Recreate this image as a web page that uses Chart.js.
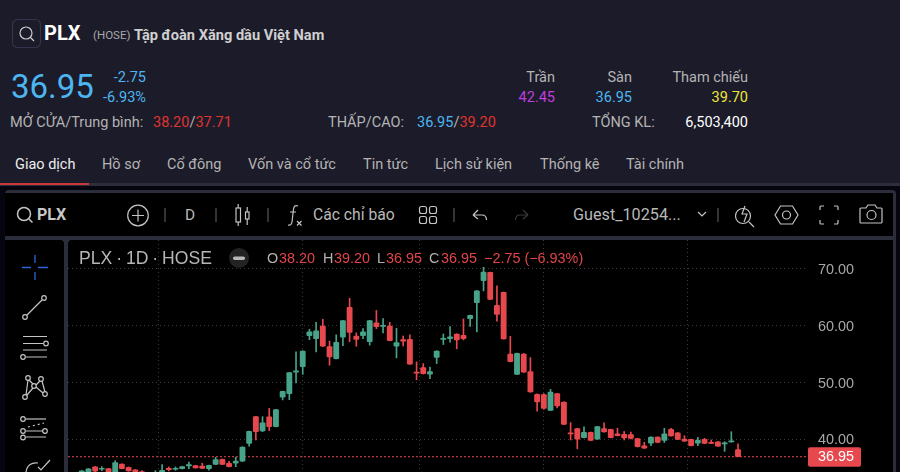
<!DOCTYPE html>
<html lang="vi"><head><meta charset="utf-8">
<script src="https://cdn.jsdelivr.net/npm/chart.js@4"></script>
<style>
html,body{margin:0;padding:0;width:900px;height:472px;overflow:hidden;background:#1c1b29;font-family:Roboto,sans-serif}
.b{position:absolute}
.t{position:absolute;white-space:nowrap;transform:translateY(-50%);font-size:14.5px;line-height:1.2;color:#b4b4b4}
.r{transform:translate(-100%,-50%)}
.c{font-family:"Liberation Sans",sans-serif;font-size:14.4px;color:#b2b2b2}
.red{color:#e0342f}.blue{color:#4db6f2}.cr{color:#e2444a}
svg{position:absolute;left:0;top:0}
canvas{display:block}
</style></head><body>
<div class="b" style="left:0;top:183px;width:900px;height:3px;background:#2d2d3c"></div>
<div class="b" style="left:0;top:183px;width:89px;height:2px;background:#c8383a"></div>
<div class="b" style="left:0;top:186px;width:900px;height:286px;background:#05050f"></div>
<div class="b" style="left:5px;top:190px;width:891px;height:282px;background:#2b2d3b;border-radius:4px 4px 0 0"></div>
<div class="b" style="left:5px;top:193px;width:888px;height:43px;background:#000"></div>
<div class="b" style="left:5px;top:240px;width:59px;height:232px;background:#000;border-radius:0 4px 0 0"></div>
<div class="b" style="left:68px;top:240px;width:825px;height:232px;background:#000;border-radius:4px 0 0 0"></div>
<div class="b" style="left:68px;top:240px;width:832px;height:232px"><canvas id="c" width="832" height="232" style="width:832px;height:232px"></canvas></div>

<div class="t" style="left:44px;top:33px;font-size:20px;font-weight:700;color:#fff">PLX</div>
<div class="t" style="left:93px;top:36px;font-size:11.500px;color:#a8a8a8">(HOSE)</div>
<div class="t" style="left:134px;top:36px;font-size:14.600px;font-weight:700;color:#cfcfcf">Tập đoàn Xăng dầu Việt Nam</div>
<div class="t blue" style="left:11px;top:87px;font-size:33px">36.95</div>
<div class="t r blue" style="left:146px;top:78px">-2.75</div>
<div class="t r blue" style="left:146px;top:98px">-6.93%</div>
<div class="t" style="left:10px;top:123px">MỞ CỬA/Trung bình:</div>
<div class="t" style="left:153px;top:123px"><span class="red">38.20</span>/<span class="red">37.71</span></div>
<div class="t" style="left:328px;top:123px">THẤP/CAO:</div>
<div class="t" style="left:417px;top:123px"><span class="blue">36.95</span>/<span class="red">39.20</span></div>
<div class="t r" style="left:555px;top:78px">Trần</div>
<div class="t r" style="left:632px;top:78px">Sàn</div>
<div class="t r" style="left:748px;top:78px">Tham chiếu</div>
<div class="t r" style="left:555px;top:98px;color:#bd3fdc">42.45</div>
<div class="t r blue" style="left:632px;top:98px">36.95</div>
<div class="t r" style="left:748px;top:98px;color:#eee53a">39.70</div>
<div class="t" style="left:592px;top:123px">TỔNG KL:</div>
<div class="t r" style="left:748px;top:123px;color:#fff">6,503,400</div>

<div class="t" style="left:15px;top:165px;color:#eee">Giao dịch</div>
<div class="t" style="left:102px;top:165px">Hồ sơ</div>
<div class="t" style="left:167px;top:165px">Cổ đông</div>
<div class="t" style="left:248px;top:165px">Vốn và cổ tức</div>
<div class="t" style="left:363px;top:165px">Tin tức</div>
<div class="t" style="left:435px;top:165px">Lịch sử kiện</div>
<div class="t" style="left:540px;top:165px">Thống kê</div>
<div class="t" style="left:626px;top:165px">Tài chính</div>

<div class="t" style="left:37px;top:215px;font-size:16px;font-weight:700;color:#c8c8c8">PLX</div>
<div class="t" style="left:185px;top:215px;font-size:15.400px;color:#b8b8b8">D</div>
<div class="t" style="left:313px;top:215px;font-size:15.700px;color:#b8b8b8">Các chỉ báo</div>
<div class="t" style="left:573px;top:215px;font-size:16.200px;color:#b8b8b8">Guest_10254...</div>

<div class="t c" style="left:79px;top:259px;font-size:17.600px;word-spacing:-1px;color:#b6b6b6">PLX · 1D · HOSE</div>
<div class="t c" style="left:267px;top:259px">O</div><div class="t c cr" style="left:279px;top:259px">38.20</div>
<div class="t c" style="left:323px;top:259px">H</div><div class="t c cr" style="left:334px;top:259px">39.20</div>
<div class="t c" style="left:377px;top:259px">L</div><div class="t c cr" style="left:386px;top:259px">36.95</div>
<div class="t c" style="left:429px;top:259px">C</div><div class="t c cr" style="left:441px;top:259px">36.95</div>
<div class="t c cr" style="left:484px;top:259px">−2.75 (−6.93%)</div>

<svg width="900" height="472" viewBox="0 0 900 472" fill="none" stroke="#c4c4c4" stroke-width="1.2">
<rect x="12.5" y="19.5" width="28" height="28" rx="5" stroke="#34344c"/>
<circle cx="26" cy="33" r="6" stroke="#ccc"/><path d="M30.5 37.5l3.5 3.5" stroke="#ccc"/>
<circle cx="24" cy="214" r="6.5" stroke-width="1.5"/><path d="M29 219l3.5 3.5" stroke-width="1.5"/>
<circle cx="138" cy="215.5" r="10.3"/><path d="M138 209.5v12M132 215.5h12"/>
<path d="M165 203v14M216 203v14M268 203v14M454 203v14M718 203v14" stroke="#555" transform="translate(0,5)"/>
<rect x="236" y="208" width="4.5" height="14"/><path d="M238.2 204v4M238.2 222v4"/><rect x="245.5" y="212" width="3.5" height="7"/><path d="M247.2 207v5M247.2 219v6"/>
<path d="M298 206c-3-1-4 0-4.500 3l-1.500 13c-.5 3-2 3.500-4 3M290 212h6M297 221l4.500 4.500M301.500 221l-4.500 4.500"/>
<rect x="419.500" y="206.500" width="7" height="7" rx="2"/><rect x="429.500" y="206.500" width="7" height="7" rx="2"/><rect x="419.500" y="216.500" width="7" height="7" rx="2"/><rect x="429.500" y="216.500" width="7" height="7" rx="2"/>
<path d="M473 215l5-5M473 215l5 4M473 215h9c3 0 4.500 2 4.500 5"/>
<path d="M528 215l-5-5M528 215l-5 4M528 215h-8c-3 0-4.500 2-4.500 5" stroke="#3a3a3a"/>
<path d="M698 212l4 4 4-4"/>
<circle cx="743" cy="216" r="7.500"/><path d="M749 222l5 5M745 206l-3 8h5l-3 8"/>
<path d="M775 215l5.500-9h12l5.500 9-5.500 9h-12z"/><circle cx="786.500" cy="215" r="4"/>
<path d="M820 210v-3a1 1 0 0 1 1-1h3M834 206h3a1 1 0 0 1 1 1v3M838 220v3a1 1 0 0 1-1 1h-3M824 224h-3a1 1 0 0 1-1-1v-3"/>
<path d="M861 208h5l2-3h7l2 3h4a1 1 0 0 1 1 1v13a1 1 0 0 1-1 1h-20a1 1 0 0 1-1-1v-13a1 1 0 0 1 1-1z"/><circle cx="871.500" cy="215" r="4.500"/>

<path d="M35 255v8M35 272v8M22 267.500h9M38 267.500h10" stroke="#2c66d6" stroke-width="1.300"/>
<path d="M27 315l15-15"/><circle cx="25" cy="317" r="2.300"/><circle cx="44" cy="298" r="2.300"/>
<path d="M23 336.500h24M23 343.500h20M23 350h24M26 357h21"/><circle cx="46" cy="343.500" r="2.300"/><circle cx="23" cy="357" r="2.300"/>
<circle cx="28" cy="378" r="2.300"/><circle cx="41" cy="379" r="2.300"/><circle cx="25" cy="397" r="2.300"/><circle cx="45" cy="394" r="2.300"/><circle cx="34" cy="386" r="2.300"/>
<path d="M26 395l2-15M29 380l4 4M36 385l4-4M42 381l3 11M43 393l-7-6M27 395l6-7"/>
<circle cx="23" cy="419" r="2.300"/><path d="M26 419h20"/><circle cx="23" cy="431" r="2.300"/><circle cx="45" cy="431" r="2.300"/><path d="M26 431h17M26 437h20"/><circle cx="23" cy="437.500" r="2.300"/><path d="M28 427l16-4" stroke-dasharray="2 3"/>
<path d="M26 472c1-7 6-10 12-9M38 467l3 3 9-10"/>
<circle cx="239" cy="258" r="10" fill="#232323" stroke="none"/><rect x="233" y="256.500" width="12" height="3.400" rx="1.700" fill="#b8b8b8" stroke="none"/>
</svg>

<script>
const opens=[33.45,33.45,35.15,34.75,34.85,33.6,35.65,35.1,34.65,34.35,
33.9,33.4,33.9,34.9,34.75,34.85,35.35,35.4,35.3,34.85,
35.6,36.5,35.8,35.8,36.15,39.3,44,41.5,43.95,42.25,
47.45,48.05,51.85,52.8,58.25,57.75,59.95,56.35,54.2,58,
63.25,58.2,58.25,57.2,60.5,59.9,59.95,56.4,57.55,57.6,
51.85,52.65,51.5,54.45,57.6,57.75,58.55,58.3,61.25,64.05,
67.95,69.4,63.6,65.9,55,51.45,55,51.95,47.95,47.9,
45.1,48.05,46.55,41.15,41.9,40.3,41.25,40.05,41.9,41.75,
41,40.9,40.85,40.15,38.85,39.35,40.4,39.8,41.75,41.15,
40.05,40,39.35,40,39.5,39.55,39.2,39.55,38.2];
const highs=[34.5,34.85,35.2,35.2,34.9,36.25,35.7,35.15,34.7,34.5,
34.1,34.5,35.55,35.15,35.15,35.25,36,35.45,35.8,35.5,
36.85,36.55,36.15,36.85,38.7,41.45,44.05,44,45.45,45.3,
48.5,51.8,55.4,55.6,59.4,60.6,61.15,57.3,58.4,60.95,
64.85,58.75,59.5,60.95,62.7,61.25,60.6,59.55,58.2,58.4,
53.65,53.35,52.75,55.6,58.55,59.85,58.6,61.2,61.9,66.2,
70.3,69.45,67.05,65.95,58.15,55.2,55.15,54.4,48,48.05,
48.8,48.1,46.6,42.95,41.95,42.2,41.3,42.3,42.9,41.8,
41.95,41.4,41.3,40.2,39.5,40.45,40.45,41.95,41.95,41.2,
40.65,40.05,40.35,40.2,39.9,39.6,39.6,41.35,39.2];
const lows=[33.4,33.4,34.3,34.5,33.6,33.5,34.8,34.4,33.7,33.4,
33.2,33.2,33.7,34.45,34.55,34.8,34.85,34.95,34.85,34.6,
35.55,35.55,35.15,35.2,36.1,38.8,39.9,41.35,41.55,42.2,
46.95,47,49.95,51.45,57.55,55.4,56.35,53.05,54.15,56.5,
57.2,56.4,57.75,56.6,59.5,58.75,57.35,54.35,56.45,53.2,
50.5,51.5,50.7,53.35,56.7,57.1,55.95,57.5,59.9,58.9,
66.15,64.6,60.8,57.65,53.65,51.4,51.8,48.3,44.95,45.3,
45.05,45.55,42.6,39.9,38.35,40.25,39.75,40,41.25,40.25,
40.6,39.9,40.1,38.65,38.4,38.9,39.4,39.45,40.55,39.95,
39.65,38.85,38.9,39.25,39.25,38.75,37.9,39.5,36.95];
const closes=[34.45,34.8,34.4,34.9,33.7,35.9,34.85,34.45,33.8,33.5,
33.4,34,34.55,34.65,34.9,35.2,35.55,35,34.9,35.45,
36.45,35.6,35.2,36.2,38.65,41.4,41.35,42.9,42.25,45.25,
48.45,51.75,52.05,55.55,58.95,59.1,56.4,54.5,57.1,60.9,
58.85,57.6,58.95,60.9,59.85,60.1,57.4,57.05,57.3,53.25,
51.65,51.55,51.95,55.55,57.75,58.05,57.5,57.75,61.85,66.15,
69.45,64.65,62,57.7,53.7,55.15,51.85,48.35,46.6,45.45,
48.35,45.9,42.65,40.95,40.05,41.25,39.8,42.25,41.3,40.3,
40.65,40.25,40.15,38.7,38.45,40.4,39.45,41,40.6,40,
39.7,38.9,39.85,39.3,39.3,38.8,39.35,39.7,36.95];
const yTicks=[40,50,60,70];
const monthTicks=[0,23,43,58,80,101];
const lastPrice=36.95;

const UP='#47a389',DOWN='#e6484e',GRID='#3b3b3b',AXIS='#a6a6a6';
const xMin=-2.05,xMax=108.3,yMin=34.26,yMax=75.1;
const colors=closes.map((c,i)=>c>=opens[i]?UP:DOWN);

const priceTag={id:'priceTag',afterDraw(ch){
  const s=ch.scales.y,g=ch.ctx,y=s.getPixelForValue(lastPrice),x=ch.chartArea.right+1;
  g.save();g.fillStyle=DOWN;g.beginPath();g.roundRect(x,y-9.500,53,19.500,2);g.fill();
  g.fillStyle='#fff';g.font='14.4px "Liberation Sans"';g.textBaseline='middle';g.textAlign='left';
  g.fillText(lastPrice.toFixed(2),x+10,y+.500);g.restore();
}};

new Chart(document.getElementById('c'),{
  type:'bar',
  plugins:[priceTag],
  data:{datasets:[
    {type:'line',data:[{x:xMin,y:lastPrice},{x:xMax,y:lastPrice}],borderColor:DOWN,borderWidth:1,borderDash:[2,2],pointRadius:0,order:3},
    {label:'Body',data:closes.map((c,i)=>({x:i,y:[opens[i],c]})),backgroundColor:colors,barThickness:5.200,borderRadius:1,borderSkipped:false,grouped:false,minBarLength:1,order:1},
    {label:'Wick',data:closes.map((c,i)=>({x:i,y:[lows[i],highs[i]]})),backgroundColor:colors,barThickness:1,grouped:false,order:2}
  ]},
  options:{
    responsive:false,animation:false,events:[],
    layout:{padding:0},
    plugins:{legend:{display:false},tooltip:{enabled:false},title:{display:false}},
    scales:{
      x:{type:'linear',position:'bottom',min:xMin,max:xMax,offset:false,
        afterBuildTicks(a){a.ticks=monthTicks.map(v=>({value:v}))},
        afterFit(a){a.height=0;a.paddingLeft=0;a.paddingRight=0},
        ticks:{display:false,autoSkip:false},
        grid:{color:GRID,drawTicks:false},border:{display:false,dash:[1,3]}},
      y:{type:'linear',position:'right',min:yMin,max:yMax,
        afterBuildTicks(a){a.ticks=yTicks.map(v=>({value:v}))},
        afterFit(a){a.width=93;a.paddingTop=0;a.paddingBottom=0},
        ticks:{autoSkip:false,color:AXIS,padding:11,labelOffset:1,font:{family:'"Liberation Sans"',size:14.4},callback:v=>v.toFixed(2)},
        grid:{color:GRID,drawTicks:false},border:{display:false,dash:[1,3]}}
    }
  }
});
</script>
</body></html>
